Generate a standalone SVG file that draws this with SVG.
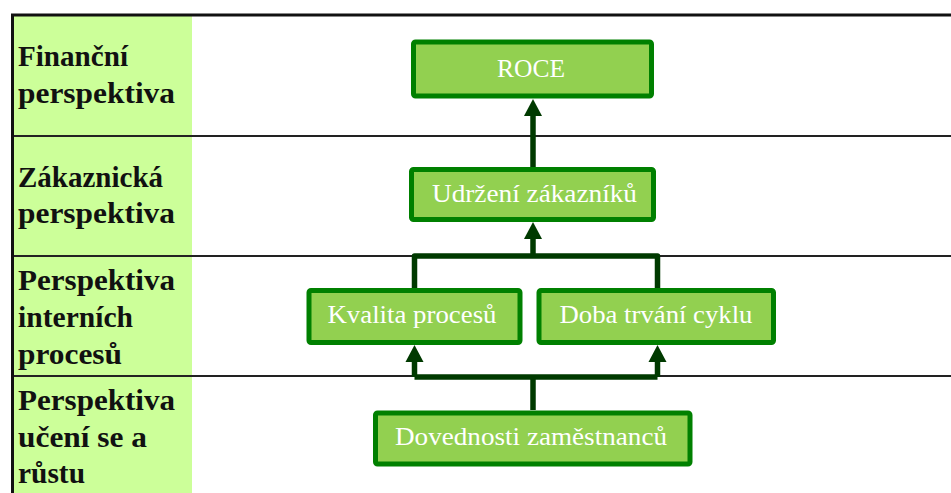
<svg xmlns="http://www.w3.org/2000/svg" width="951" height="493" viewBox="0 0 951 493">
<style>
.lab{font-family:"Liberation Serif","Times New Roman",serif;font-weight:bold;font-size:29px;fill:#111}
.box{fill:#92D050;stroke:#008000;stroke-width:5}
.bt{font-family:"Liberation Serif","Times New Roman",serif;font-size:25px;fill:#ffffff}
.con{fill:none;stroke:#003A00;stroke-width:5.5;stroke-linejoin:round}
.grid{stroke:#222;stroke-width:2}
</style>
<defs>
<marker id="ah" markerUnits="userSpaceOnUse" markerWidth="20" markerHeight="20" viewBox="0 -10 18 20" refX="0" refY="0" orient="auto">
<path d="M0,-9 L17,0 L0,9 Z" fill="#003A00"/>
</marker>
</defs>
<rect x="0" y="0" width="951" height="493" fill="#ffffff"/>
<g id="table">
<rect x="14" y="16" width="178" height="477" fill="#CCFF99"/>
<line class="grid" x1="13" y1="136" x2="951" y2="136"/>
<line class="grid" x1="13" y1="256" x2="951" y2="256"/>
<line class="grid" x1="13" y1="376" x2="951" y2="376"/>
<line x1="11" y1="15" x2="951" y2="15" stroke="#111" stroke-width="3"/>
<line x1="12.5" y1="14" x2="12.5" y2="493" stroke="#111" stroke-width="3"/>
</g>
<g id="labels">
<text class="lab" x="18" y="66" textLength="110" lengthAdjust="spacingAndGlyphs">Finanční</text>
<text class="lab" x="18" y="103" textLength="157" lengthAdjust="spacingAndGlyphs">perspektiva</text>
<text class="lab" x="18" y="187" textLength="145" lengthAdjust="spacingAndGlyphs">Zákaznická</text>
<text class="lab" x="18" y="223" textLength="157" lengthAdjust="spacingAndGlyphs">perspektiva</text>
<text class="lab" x="18" y="290" textLength="157" lengthAdjust="spacingAndGlyphs">Perspektiva</text>
<text class="lab" x="18" y="327" textLength="115" lengthAdjust="spacingAndGlyphs">interních</text>
<text class="lab" x="18" y="364" textLength="104" lengthAdjust="spacingAndGlyphs">procesů</text>
<text class="lab" x="18" y="410" textLength="157" lengthAdjust="spacingAndGlyphs">Perspektiva</text>
<text class="lab" x="18" y="447" textLength="129" lengthAdjust="spacingAndGlyphs">učení se a</text>
<text class="lab" x="18" y="483" textLength="67" lengthAdjust="spacingAndGlyphs">růstu</text>
</g>
<g id="connectors">
<path class="con" d="M533,167 L533,116" marker-end="url(#ah)"/>
<path class="con" d="M533,256 L533,239" marker-end="url(#ah)"/>
<path class="con" d="M414.5,288 L414.5,256 L657.5,256 L657.5,288"/>
<path class="con" d="M533,410 L533,377"/>
<path class="con" d="M414.5,377 L657.5,377"/>
<path class="con" d="M414.5,377 L414.5,362" marker-end="url(#ah)"/>
<path class="con" d="M657.5,377 L657.5,362" marker-end="url(#ah)"/>
</g>
<g id="roce">
<rect class="box" x="413.5" y="42" width="238" height="54" rx="2"/>
<text class="bt" x="531" y="77" text-anchor="middle" textLength="68" lengthAdjust="spacingAndGlyphs">ROCE</text>
</g>
<g id="udrzeni">
<rect class="box" x="411.5" y="169.5" width="242" height="50" rx="2"/>
<text class="bt" x="534.5" y="202" text-anchor="middle" textLength="205" lengthAdjust="spacingAndGlyphs">Udržení zákazníků</text>
</g>
<g id="kvalita">
<rect class="box" x="309" y="290.5" width="211" height="52" rx="2"/>
<text class="bt" x="412" y="323" text-anchor="middle" textLength="169" lengthAdjust="spacingAndGlyphs">Kvalita procesů</text>
</g>
<g id="doba">
<rect class="box" x="539" y="290.5" width="234.5" height="52" rx="2"/>
<text class="bt" x="656" y="323" text-anchor="middle" textLength="193" lengthAdjust="spacingAndGlyphs">Doba trvání cyklu</text>
</g>
<g id="dovednosti">
<rect class="box" x="375.5" y="413" width="314.5" height="51" rx="2"/>
<text class="bt" x="531" y="445" text-anchor="middle" textLength="272" lengthAdjust="spacingAndGlyphs">Dovednosti zaměstnanců</text>
</g>
</svg>
